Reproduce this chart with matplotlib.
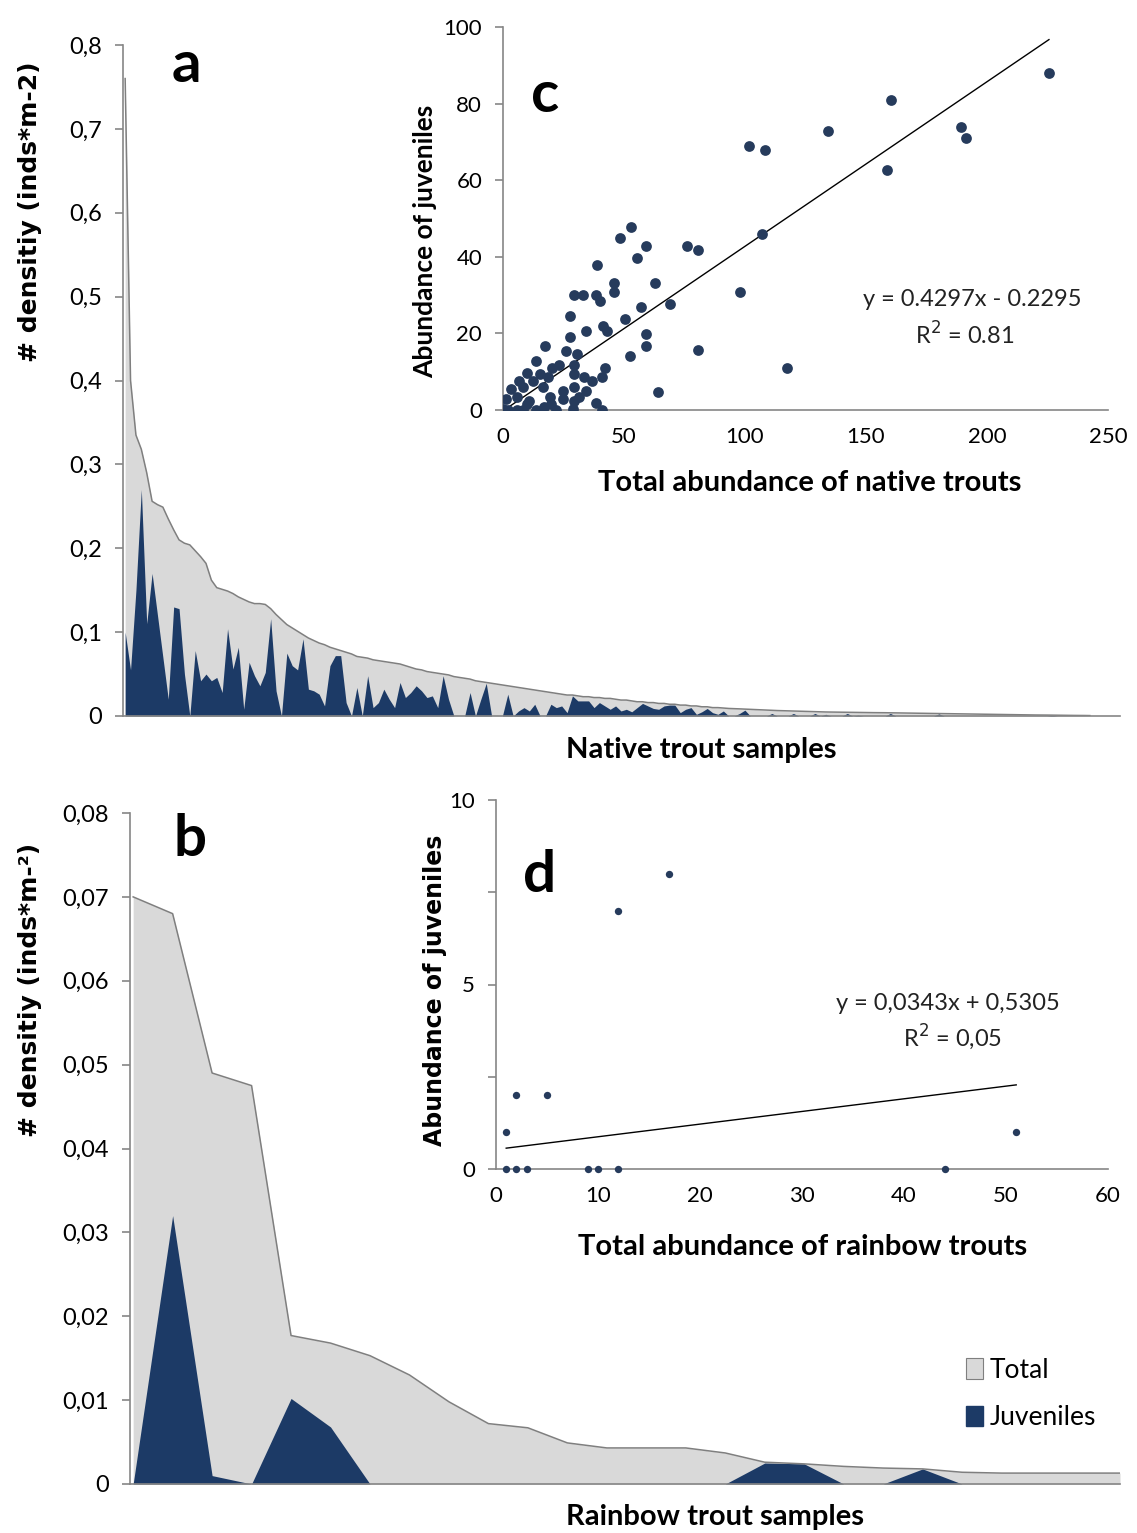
import matplotlib
matplotlib.use('Agg')
import matplotlib.pyplot as plt
import numpy as np
from matplotlib.patches import Patch

plt.rcParams['font.family'] = ['Lato', 'DejaVu Sans']

# ---------------- data ----------------
native_total = [
    0.76, 0.40, 0.335, 0.318, 0.29, 0.256, 0.252, 0.249, 0.235, 0.222,
    0.21, 0.206, 0.204, 0.197, 0.19, 0.182, 0.162, 0.153, 0.151, 0.149,
    0.146, 0.142, 0.139, 0.136, 0.134, 0.134, 0.133, 0.128, 0.121, 0.115,
    0.109, 0.105, 0.101, 0.097, 0.093, 0.09, 0.087, 0.085, 0.082, 0.08,
    0.078, 0.076, 0.074, 0.071, 0.07, 0.069, 0.067, 0.066, 0.065, 0.064,
    0.063, 0.062, 0.06, 0.058, 0.056, 0.055, 0.053, 0.052, 0.051, 0.05,
    0.049, 0.047, 0.046, 0.045, 0.044, 0.042, 0.041, 0.04, 0.039, 0.038,
    0.037, 0.036, 0.035, 0.034, 0.033, 0.032, 0.031, 0.030, 0.029, 0.028,
    0.027, 0.026, 0.025, 0.025, 0.024, 0.023, 0.023, 0.022, 0.022, 0.021,
    0.021, 0.020, 0.019, 0.019, 0.018, 0.017, 0.017, 0.016, 0.016, 0.015,
    0.015, 0.014, 0.014, 0.013, 0.013, 0.012, 0.012, 0.011, 0.011, 0.010,
    0.010, 0.0095, 0.009, 0.0088, 0.0085, 0.0082, 0.008, 0.0077, 0.0073, 0.007,
    0.0067, 0.0065, 0.0063, 0.006, 0.0058, 0.0056, 0.0054, 0.0052, 0.005, 0.0049,
    0.0048, 0.0047, 0.0046, 0.0045, 0.0044, 0.0043, 0.0042, 0.0041, 0.0041, 0.004,
    0.004, 0.0039, 0.0038, 0.0036, 0.0035, 0.0034, 0.0033, 0.0032, 0.0031, 0.003,
    0.0029, 0.0028, 0.0027, 0.0026, 0.0025, 0.0024, 0.0023, 0.0022, 0.0021, 0.002,
    0.0019, 0.0018, 0.0018, 0.0017, 0.0016, 0.0015, 0.0015, 0.0014, 0.0013, 0.0012,
    0.0012, 0.0011, 0.001, 0.001, 0.0009, 0.0008, 0.0007, 0.0007, 0.0006, 0.0005,
]
native_juv = [
    0.10, 0.055, 0.15, 0.27, 0.11, 0.17, 0.12, 0.07, 0.02, 0.13,
    0.128, 0.05, 0.0, 0.078, 0.042, 0.05, 0.042, 0.046, 0.028, 0.104,
    0.056, 0.082, 0.008, 0.064, 0.048, 0.036, 0.052, 0.116, 0.03, 0.0,
    0.075, 0.06, 0.055, 0.092, 0.032, 0.03, 0.026, 0.012, 0.06, 0.072,
    0.072, 0.016, 0.0, 0.034, 0.0, 0.048, 0.01, 0.016, 0.032, 0.02,
    0.01, 0.04, 0.022, 0.028, 0.036, 0.03, 0.022, 0.024, 0.01, 0.048,
    0.02, 0.0, 0.0, 0.0, 0.028, 0.0, 0.02, 0.039, 0.0, 0.0,
    0.0, 0.026, 0.0, 0.006, 0.01, 0.006, 0.014, 0.0, 0.0, 0.014,
    0.01, 0.012, 0.004, 0.024, 0.018, 0.018, 0.018, 0.01, 0.016, 0.012,
    0.008, 0.012, 0.006, 0.008, 0.005, 0.01, 0.015, 0.012, 0.009, 0.008,
    0.012, 0.013, 0.013, 0.004, 0.008, 0.01, 0.002, 0.005, 0.009, 0.004,
    0.002, 0.006, 0.0, 0.0, 0.003, 0.007, 0.0, 0.0, 0.0, 0.0,
    0.003, 0.0, 0.0, 0.0, 0.003, 0.0, 0.0, 0.0, 0.003, 0.0,
    0.002, 0.0, 0.0, 0.0, 0.003, 0.0, 0.001, 0.0, 0.0, 0.0,
    0.0, 0.0, 0.003, 0.0, 0.0, 0.0, 0.0, 0.0, 0.0, 0.0,
    0.0, 0.0025, 0.0, 0.0, 0.0, 0.0, 0.0, 0.0, 0.0, 0.0,
    0.0, 0.0, 0.0, 0.0, 0.0, 0.0, 0.0, 0.0, 0.0, 0.0,
    0.0, 0.0, 0.0008, 0.0, 0.0, 0.0, 0.0, 0.0, 0.0, 0.0,
]

rainbow_total = [0.070, 0.068, 0.049, 0.0475, 0.0177, 0.0168, 0.0153, 0.013,
                 0.0098, 0.0072, 0.0067, 0.0049, 0.0043, 0.0043, 0.0043, 0.0037,
                 0.0026, 0.0024, 0.0021, 0.0019, 0.0018, 0.0014, 0.0013, 0.0013,
                 0.0013, 0.0013]
rainbow_juv = [0.0, 0.032, 0.001, 0.0, 0.0102, 0.0068, 0.0, 0.0,
               0.0, 0.0, 0.0, 0.0, 0.0, 0.0, 0.0, 0.0,
               0.0025, 0.0024, 0.0, 0.0, 0.0018, 0.0, 0.0, 0.0,
               0.0, 0.0]

native_x = [225.6, 160.3, 134.4, 189.1, 191.4, 101.6, 108.1, 158.5, 52.8, 48.4,
            107.1, 76.2, 80.5, 59.2, 55.4, 39.0, 45.9, 45.9, 62.7, 97.8,
            29.5, 33.0, 38.5, 40.2, 69.1, 57.2, 27.6, 50.6, 41.5, 42.8,
            34.5, 59.2, 27.6, 59.2, 17.3, 80.5, 25.9, 30.7, 52.3, 117.4,
            13.5, 20.4, 23.0, 29.4, 42.0, 10.0, 15.2, 18.7, 29.5, 33.3,
            36.8, 41.1, 6.6, 3.1, 8.3, 12.6, 16.4, 24.7, 29.4, 34.2,
            64.1, 1.4, 5.7, 10.9, 19.5, 24.7, 29.4, 31.6, 38.5, 0.0,
            2.2, 5.7, 8.3, 13.5, 16.9, 21.8, 29.0, 40.8, 20.0, 10.0]
native_y = [88.1, 80.9, 72.9, 73.9, 71.1, 69.0, 67.9, 62.7, 47.7, 45.0,
            45.9, 42.9, 41.7, 42.9, 39.7, 37.9, 33.1, 30.7, 33.1, 30.9,
            30.1, 30.1, 30.1, 28.5, 27.7, 26.8, 24.6, 23.7, 22.0, 20.7,
            20.5, 19.8, 19.0, 16.6, 16.6, 15.7, 15.5, 14.6, 14.0, 10.9,
            12.7, 11.0, 11.8, 11.8, 11.0, 9.6, 9.4, 8.5, 9.4, 8.5,
            7.7, 8.5, 7.5, 5.5, 5.9, 7.7, 5.9, 5.0, 5.9, 4.9,
            4.6, 2.9, 3.3, 2.4, 3.3, 2.9, 2.4, 3.3, 1.7, 0.3,
            0.0, 0.0, 0.0, 0.0, 0.7, 0.0, 0.3, 0.0, 1.6, 1.6]

rainbow_x = [1, 2, 3, 9, 10, 12, 44, 1, 51, 2, 5, 12, 17]
rainbow_y = [0, 0, 0, 0, 0, 0, 0, 1, 1, 2, 2, 7, 8]

fit_native = (0.4297, -0.2295)
fit_rainbow = (0.0343, 0.5305)

a_yticks = [0, 0.1, 0.2, 0.3, 0.4, 0.5, 0.6, 0.7, 0.8]
a_ylabels = ["0", "0,1", "0,2", "0,3", "0,4", "0,5", "0,6", "0,7", "0,8"]
b_yticks = [0, 0.01, 0.02, 0.03, 0.04, 0.05, 0.06, 0.07, 0.08]
b_ylabels = ["0", "0,01", "0,02", "0,03", "0,04", "0,05", "0,06", "0,07", "0,08"]
c_xticks = [0, 50, 100, 150, 200, 250]
c_yticks = [0, 20, 40, 60, 80, 100]
d_xticks = [0, 10, 20, 30, 40, 50, 60]
d_yticks = [0, 5, 10]
d_yminor = [2.5, 7.5]

# ---------------- style ----------------
W, H = 1137, 1533
GRAY = '#d9d9d9'
EDGE = '#7f7f7f'
NAVY = '#1c3a66'
DOT = '#263b5c'
AXC = '#868686'
WIDE = ['DejaVu Sans']

fig = plt.figure(figsize=(W / 100, H / 100), dpi=100)


def rect(l, t, r, b):
    return [l / W, (H - b) / H, (r - l) / W, (b - t) / H]


def ftext(x, y, s, **kw):
    fig.text(x / W, 1 - y / H, s, **kw)


def style_axes(ax):
    for s in ['top', 'right']:
        ax.spines[s].set_visible(False)
    for s in ['left', 'bottom']:
        ax.spines[s].set_color(AXC)
        ax.spines[s].set_linewidth(1.2)
    ax.tick_params(axis='y', direction='out', length=6, width=1.2, color=AXC,
                   labelsize=16, pad=9)
    ax.tick_params(axis='x', length=0, labelsize=16, pad=12)


# ---- panel a ----
axa = fig.add_axes(rect(123, 45, 1120, 716))
xa = np.arange(len(native_total))
axa.fill_between(xa, native_total, color=GRAY, lw=0)
axa.plot(xa, native_total, color=EDGE, lw=1.1)
axa.fill_between(xa, native_juv, color=NAVY, lw=0)
axa.set_xlim(-0.4, 184.6)
axa.set_ylim(0, 0.8)
style_axes(axa)
axa.set_xticks([])
axa.set_yticks(a_yticks)
axa.set_yticklabels(a_ylabels)
axa.tick_params(axis='y', labelsize=17)
ftext(186, 65, 'a', fontsize=42, fontweight='bold', ha='center', va='center')
ftext(30, 212, '# densitiy (inds*m-2)', rotation=90, fontsize=18,
      fontweight='bold', ha='center', va='center', family=WIDE)
ftext(701, 750, 'Native trout samples', fontsize=21, fontweight='bold',
      ha='center', va='center')

# ---- panel b ----
axb = fig.add_axes(rect(130, 813, 1120, 1484))
xb = np.arange(len(rainbow_total))
axb.fill_between(xb, rainbow_total, color=GRAY, lw=0)
axb.plot(xb, rainbow_total, color=EDGE, lw=1.1)
axb.fill_between(xb, rainbow_juv, color=NAVY, lw=0)
axb.set_xlim(-0.08, 25)
axb.set_ylim(0, 0.08)
style_axes(axb)
axb.set_xticks([])
axb.set_yticks(b_yticks)
axb.set_yticklabels(b_ylabels)
axb.tick_params(axis='y', labelsize=17)
ftext(190, 840, 'b', fontsize=42, fontweight='bold', ha='center', va='center')
ftext(30, 990, '# densitiy (inds*m-²)', rotation=90, fontsize=18,
      fontweight='bold', ha='center', va='center', family=WIDE)
ftext(715, 1517, 'Rainbow trout samples', fontsize=21, fontweight='bold',
      ha='center', va='center')
handles = [Patch(facecolor=GRAY, edgecolor=EDGE, lw=0.8, label='Total'),
           Patch(facecolor=NAVY, edgecolor=NAVY, label='Juveniles')]
axb.legend(handles=handles, loc='lower right', bbox_to_anchor=(1.0, 0.045),
           frameon=False, fontsize=19, handlelength=0.65, handleheight=0.8,
           handletextpad=0.25, labelspacing=0.85)

# ---- panel c ----
axc = fig.add_axes(rect(503, 27, 1108, 410))
axc.set_facecolor('white')
axc.scatter(native_x, native_y, s=60, color=DOT, zorder=3, lw=0)
xl = np.array([0.0, max(native_x)])
axc.plot(xl, fit_native[0] * xl + fit_native[1], color='black', lw=1)
axc.set_xlim(0, 250)
axc.set_ylim(0, 100)
style_axes(axc)
axc.set_xticks(c_xticks)
axc.set_yticks(c_yticks)
ftext(545, 95, 'c', fontsize=42, fontweight='bold', ha='center', va='center')
ftext(425, 241, 'Abundance of juveniles', rotation=90, fontsize=19,
      fontweight='bold', ha='center', va='center')
ftext(810, 483, 'Total abundance of native trouts', fontsize=21,
      fontweight='bold', ha='center', va='center')
ftext(972, 300, 'y = 0.4297x - 0.2295', fontsize=17, ha='center', va='center',
      color='#222222')
ftext(965, 335, 'R$^2$ = 0.81', fontsize=17, ha='center', va='center',
      color='#222222')

# ---- panel d ----
axd = fig.add_axes(rect(496, 800, 1108, 1169))
axd.set_facecolor('white')
axd.scatter(rainbow_x, rainbow_y, s=28, color=DOT, zorder=3, lw=0,
            clip_on=False)
xl = np.array([min(rainbow_x), max(rainbow_x)], dtype=float)
axd.plot(xl, fit_rainbow[0] * xl + fit_rainbow[1], color='black', lw=1)
axd.set_xlim(0, 60)
axd.set_ylim(0, 10)
style_axes(axd)
axd.set_xticks(d_xticks)
axd.set_yticks(d_yticks)
axd.set_yticks(d_yminor, minor=True)
axd.tick_params(axis='y', which='minor', direction='out', length=6, width=1.2,
                color=AXC)
ftext(540, 875, 'd', fontsize=42, fontweight='bold', ha='center', va='center')
ftext(435, 990, 'Abundance of juveniles', rotation=90, fontsize=17,
      fontweight='bold', ha='center', va='center', family=WIDE)
ftext(803, 1247, 'Total abundance of rainbow trouts', fontsize=21,
      fontweight='bold', ha='center', va='center')
ftext(948, 1003, 'y = 0,0343x + 0,5305', fontsize=17, ha='center',
      va='center', color='#222222')
ftext(952, 1037, 'R$^2$ = 0,05', fontsize=17, ha='center', va='center',
      color='#222222')

fig.savefig('out.png', dpi=100)
